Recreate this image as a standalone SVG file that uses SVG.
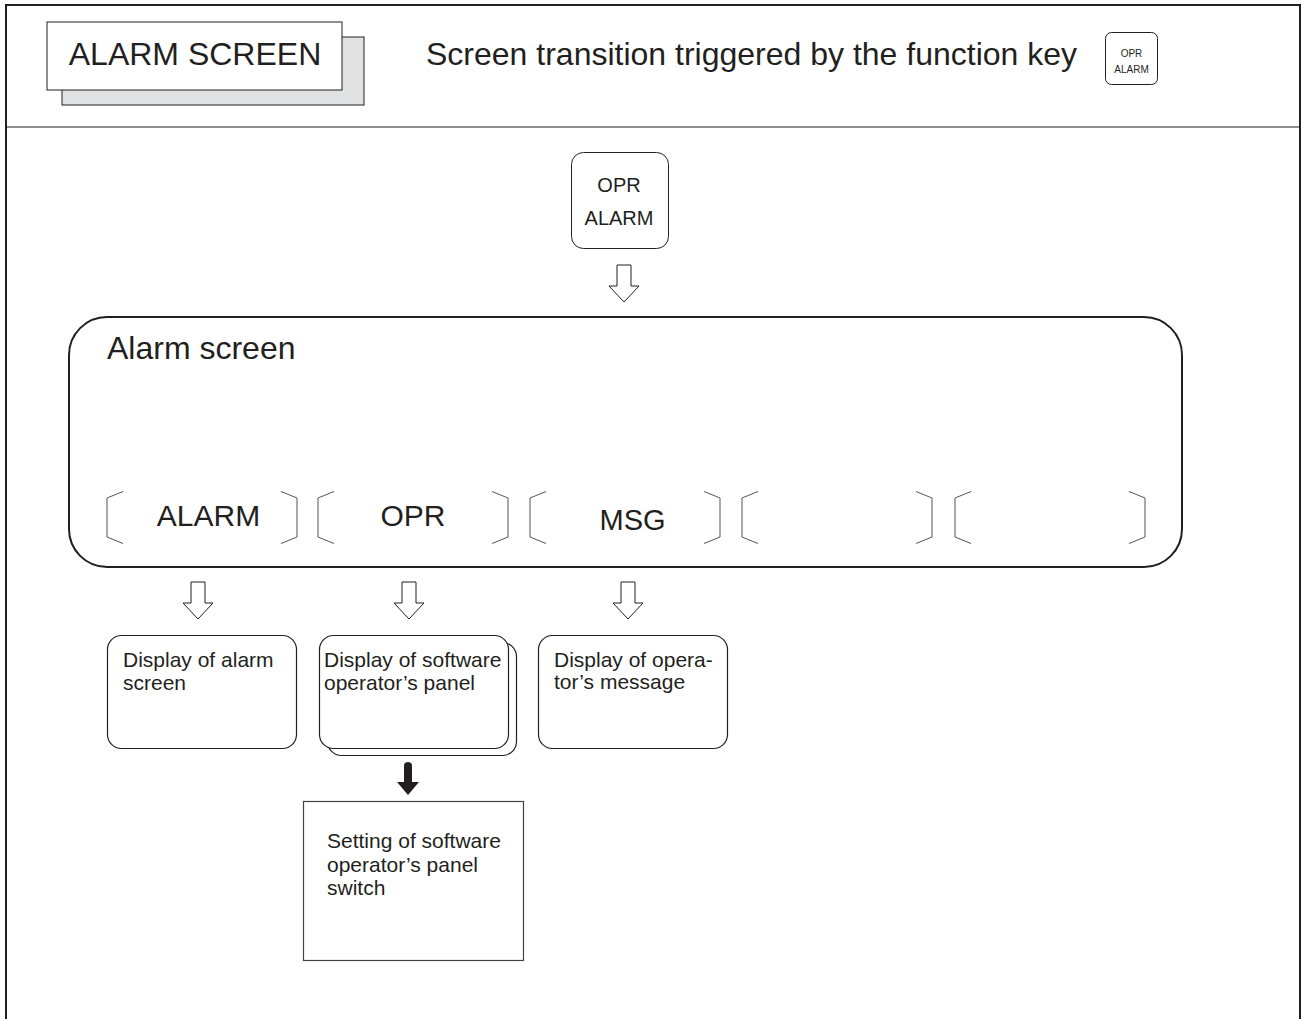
<svg xmlns="http://www.w3.org/2000/svg" width="1302" height="1019" viewBox="0 0 1302 1019">
<style>
text{font-family:"Liberation Sans",Arial,sans-serif;fill:#231f20}
.frame{fill:none;stroke:#231f20;stroke-width:2}
.thin{fill:none;stroke:#231f20;stroke-width:1}
.box{fill:#fff;stroke:#231f20;stroke-width:1.2}
.brk{fill:none;stroke:#555;stroke-width:1}
.harrow{fill:#fff;stroke:#231f20;stroke-width:1}
.t20{font-size:21px}
.t29{font-size:30px}
</style>
<defs>
<path id="ha" d="M-7,0 H7 V21 H15 L0,37 L-15,21 H-7 Z"/>
<g id="sk">
<path d="M16,-26 L0,-19.5 V19.5 L16,26 M174,-26 L190,-19.5 V19.5 L174,26"/>
</g>
</defs>
<rect width="1302" height="1019" fill="#fff"/>
<g id="frame">
<path class="frame" d="M6,1019 V5 H1300 V1019"/>
<line x1="6" y1="127" x2="1300" y2="127" stroke="#231f20" stroke-width="1.2"/>
</g>
<g id="header">
<rect x="62" y="37" width="302" height="68" fill="#e1e2e3" stroke="#231f20" stroke-width="1"/>
<rect x="47" y="22" width="295" height="68" fill="#fff" stroke="#231f20" stroke-width="1"/>
<text x="195" y="65" font-size="32" text-anchor="middle">ALARM SCREEN</text>
<text x="426" y="65" font-size="32">Screen transition triggered by the function key</text>
<rect x="1105.5" y="32.5" width="52" height="52" rx="6" class="thin" stroke-width="1.3"/>
<text x="1131.5" y="57" font-size="10" text-anchor="middle">OPR</text>
<text x="1131.5" y="73" font-size="10" text-anchor="middle">ALARM</text>
</g>
<g id="key-opr-alarm">
<rect x="571.5" y="152.5" width="97" height="96" rx="12" class="thin" stroke-width="1.5"/>
<text x="619" y="192" font-size="20" text-anchor="middle">OPR</text>
<text x="619" y="225" font-size="20" text-anchor="middle">ALARM</text>
</g>
<g id="alarm-screen">
<rect x="69" y="317" width="1113" height="250" rx="38" class="frame"/>
<text x="107" y="359" font-size="32">Alarm screen</text>
<g class="brk">
<use href="#sk" x="107" y="517.5"/>
<use href="#sk" x="318" y="517.5"/>
<use href="#sk" x="530" y="517.5"/>
<use href="#sk" x="742" y="517.5"/>
<use href="#sk" x="955" y="517.5"/>
</g>
<text x="208.5" y="526" class="t29" text-anchor="middle">ALARM</text>
<text x="413" y="526" class="t29" text-anchor="middle">OPR</text>
<text x="632.5" y="530" font-size="29" text-anchor="middle">MSG</text>
</g>
<g id="display-alarm">
<rect x="107.5" y="635.5" width="189" height="113" rx="14" class="box"/>
<text x="123" y="667" class="t20">Display of alarm</text>
<text x="123" y="690" class="t20">screen</text>
</g>
<g id="display-opr">
<rect x="327.5" y="642.5" width="189" height="113" rx="14" class="box"/>
<rect x="319.5" y="635.5" width="189" height="113" rx="14" class="box"/>
<text x="324" y="667" class="t20">Display of software</text>
<text x="324" y="690" class="t20">operator’s panel</text>
</g>
<g id="display-msg">
<rect x="538.5" y="635.5" width="189" height="113" rx="14" class="box"/>
<text x="554" y="667" class="t20">Display of opera-</text>
<text x="554" y="689" class="t20">tor’s message</text>
</g>
<g id="setting-switch">
<rect x="303.5" y="801.5" width="220" height="159" fill="#fff" stroke="#444" stroke-width="1.2"/>
<text x="327" y="848" class="t20">Setting of software</text>
<text x="327" y="872" class="t20">operator’s panel</text>
<text x="327" y="895" class="t20">switch</text>
</g>
<g id="connectors">
<use href="#ha" x="624" y="265" class="harrow"/>
<use href="#ha" x="198" y="582" class="harrow"/>
<use href="#ha" x="409" y="582" class="harrow"/>
<use href="#ha" x="628" y="582" class="harrow"/>
<path d="M404,766 A4,4 0 0 1 412,766 V782 H419 L408,795 L397,782 H404 Z" fill="#231f20"/>
</g>
</svg>
